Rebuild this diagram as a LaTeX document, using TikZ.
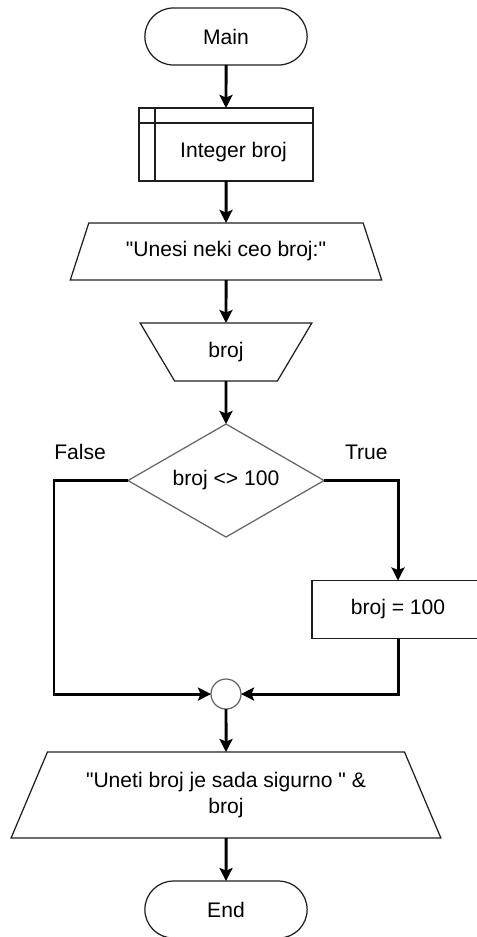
\documentclass[tikz,border=0pt]{standalone}
\usepackage{fontspec}
\setmainfont{Liberation Sans}[Ligatures=TeXOff]
\usepackage{xcolor}
\usetikzlibrary{shapes.geometric,shapes.misc,arrows.meta,positioning}
\definecolor{framecolor}{RGB}{30,30,30}
\definecolor{decisioncolor}{RGB}{100,100,100}

\begin{document}
\begin{tikzpicture}[
    node distance=0.86cm,
    every node/.style={font=\fontsize{12}{15.3}\selectfont},
    block/.style={draw=framecolor, line width=0.7pt, outer sep=0pt, align=center},
    terminal/.style={block, rounded rectangle, minimum width=3.48cm, minimum height=1.14cm},
    declare/.style={block, rectangle, minimum width=3.48cm, minimum height=1.46cm, text height=0.6cm, text depth=0.09cm},
    process/.style={block, rectangle, minimum width=3.44cm, minimum height=1.16cm},
    io/.style={block, trapezium, trapezium stretches=true},
    decision/.style={block, draw=decisioncolor, diamond, aspect=1.73, inner sep=0pt, minimum width=3.92cm, minimum height=2.26cm},
    joint/.style={block, draw=decisioncolor, circle, inner sep=0pt, minimum size=0.6cm},
    lbl/.style={inner sep=0pt},
    arrow/.style={-{Stealth[length=0.26cm, width=0.26cm, inset=0.05cm]}, line width=1.7pt},
]
\useasboundingbox (0,0) rectangle (9.52,-18.74);

% Main column
\node[terminal] (main) at (4.52,-0.73) {Main};
\node[declare, below=of main] (decl) {\hspace*{0.3cm}Integer broj};
\node[io, below=0.84cm of decl, trapezium left angle=65.5, trapezium right angle=65.5,
      minimum width=6.24cm, minimum height=1.14cm] (input) {"Unesi neki ceo broj:"};
\node[io, below=of input, shape border rotate=180, trapezium left angle=63.4, trapezium right angle=63.4,
      minimum width=3.44cm, minimum height=1.16cm] (read) {broj};
\node[decision, below=of read] (cond) {broj <> 100};
\node[joint, below=2.84cm of cond] (join) {};
\node[io, below=of join, trapezium left angle=63, trapezium right angle=63,
      minimum width=8.6cm, minimum height=1.72cm] (out) {"Uneti broj je sada sigurno " \&\\broj};
\node[terminal, below=of out] (end) {End};

% True branch
\node[process, below=2cm of cond.east, xshift=1.48cm] (set) {broj = 100};

% Subroutine bars
\draw[line width=0.7pt, draw=framecolor] ([yshift=-0.3cm]decl.north west) -- ([yshift=-0.3cm]decl.north east);
\draw[line width=0.7pt, draw=framecolor] ([xshift=0.32cm]decl.north west) -- ([xshift=0.32cm]decl.south west);

% Branch corners and labels
\coordinate (fc) at ([xshift=-1.48cm]cond.west);
\coordinate (tc) at (cond.east -| set.north);
\node[lbl, anchor=south west] (lfalse) at ([yshift=0.4cm]fc) {False};
\node[lbl, anchor=south east] (ltrue) at ([xshift=-0.2cm, yshift=0.4cm]tc) {True};

% Arrows
\draw[arrow] (main) -- (decl);
\draw[arrow] (decl) -- (input);
\draw[arrow] (input) -- (read);
\draw[arrow] (read) -- (cond);
\draw[arrow] (cond.west) -- (fc) |- (join.west);
\draw[arrow] (cond.east) -- (tc) -- (set.north);
\draw[arrow] (set.south) |- (join.east);
\draw[arrow] (join) -- (out);
\draw[arrow] (out) -- (end);

\end{tikzpicture}
\end{document}
